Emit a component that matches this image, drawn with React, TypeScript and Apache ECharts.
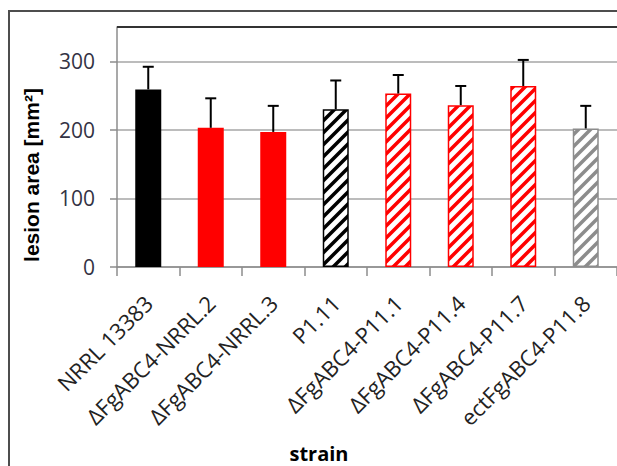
import React, { useEffect, useRef } from "react";
import * as echarts from "echarts";

const categories = [
  "NRRL 13383",
  "ΔFgABC4-NRRL.2",
  "ΔFgABC4-NRRL.3",
  "P1.11",
  "ΔFgABC4-P11.1",
  "ΔFgABC4-P11.4",
  "ΔFgABC4-P11.7",
  "ectFgABC4-P11.8",
];
const means = [259, 203, 197, 230, 253, 236, 264, 202];
const errors = [33, 43, 38, 42, 27, 28, 38, 33];
const barColors = ["#000000", "#ff0000", "#ff0000", "#000000", "#ff0000", "#ff0000", "#ff0000", "#8c8c8c"];
const hatched = [false, false, false, true, true, true, true, true];
const yMin = 0;
const yMax = 350;
const yInterval = 100;

function makeHatch(color: string) {
  const s = 12;
  const c = document.createElement("canvas");
  c.width = s;
  c.height = s;
  const ctx = c.getContext("2d")!;
  ctx.fillStyle = "#ffffff";
  ctx.fillRect(0, 0, s, s);
  ctx.strokeStyle = color;
  ctx.lineWidth = 3.5;
  ctx.lineCap = "square";
  for (const k of [0, s, 2 * s]) {
    ctx.beginPath();
    ctx.moveTo(-3, k + 3);
    ctx.lineTo(k + 3, -3);
    ctx.stroke();
  }
  return c;
}

export default function App() {
  const ref = useRef<HTMLDivElement>(null);
  useEffect(() => {
    const chart = echarts.init(ref.current!, null, { renderer: "svg" });
    const barData = means.map((m, i) => ({
      value: m,
      itemStyle: {
        color: hatched[i] ? { image: makeHatch(barColors[i]), repeat: "repeat" } : barColors[i],
        borderColor: barColors[i],
        borderWidth: 1.5,
      },
    }));
    const option: any = {
      animation: false,
      backgroundColor: "#ffffff",
      grid: { left: 117, top: 27, width: 507, height: 240 },
      xAxis: {
        type: "category",
        data: categories,
        boundaryGap: true,
        axisLine: { lineStyle: { color: "#8c8c8c", width: 1.5 } },
        axisTick: { show: true, length: 9, lineStyle: { color: "#8c8c8c", width: 1.5 } },
        axisLabel: {
          interval: 0,
          rotate: 45,
          margin: 32,
          fontFamily: "Open Sans",
          fontSize: 22,
          color: "#222222",
        },
      },
      yAxis: {
        type: "value",
        min: yMin,
        max: yMax,
        interval: yInterval,
        axisLine: { show: true, lineStyle: { color: "#8c8c8c", width: 1.5 } },
        axisTick: { show: true, length: 7, lineStyle: { color: "#8c8c8c", width: 1.5 } },
        splitLine: { show: true, lineStyle: { color: "#a6a6a6", width: 1.5 } },
        axisLabel: {
          margin: 22,
          fontFamily: "Open Sans",
          fontSize: 21,
          color: "#333344",
          showMaxLabel: false,
        },
      },
      series: [
        {
          type: "bar",
          data: barData,
          barWidth: 26,
          z: 2,
        },
        {
          type: "custom",
          data: means.map((m, i) => [i, m, m + errors[i]]),
          encode: { x: 0, y: [1, 2] },
          z: 3,
          renderItem: (params: any, api: any) => {
            const x = api.value(0);
            const p0 = api.coord([x, api.value(1)]);
            const p1 = api.coord([x, api.value(2)]);
            const hw = 5.5;
            const st = { stroke: "#000000", lineWidth: 2 };
            return {
              type: "group",
              children: [
                { type: "line", shape: { x1: p0[0], y1: p0[1], x2: p1[0], y2: p1[1] }, style: st },
                { type: "line", shape: { x1: p1[0] - hw, y1: p1[1], x2: p1[0] + hw, y2: p1[1] }, style: st },
              ],
            };
          },
        },
      ],
      graphic: [
        {
          type: "rect",
          shape: { x: 9, y: 11, width: 700, height: 600 },
          style: { fill: "none", stroke: "#4d4d4d", lineWidth: 2 },
          z: 10,
        },
        {
          type: "line",
          shape: { x1: 117, y1: 27, x2: 640, y2: 27 },
          style: { stroke: "#333333", lineWidth: 2 },
          z: 10,
        },
        {
          type: "text",
          x: 31,
          y: 175,
          rotation: Math.PI / 2,
          style: {
            text: "lesion area [mm²]",
            fontFamily: "Liberation Sans",
            fontWeight: "bold",
            fontSize: 21,
            fill: "#000000",
            textAlign: "center",
            textVerticalAlign: "middle",
          },
          z: 10,
        },
        {
          type: "text",
          x: 319,
          y: 453,
          style: {
            text: "strain",
            fontFamily: "Open Sans",
            fontWeight: "bold",
            fontSize: 20,
            fill: "#000000",
            textAlign: "center",
            textVerticalAlign: "middle",
          },
          z: 10,
        },
      ],
    };
    chart.setOption(option);
    return () => chart.dispose();
  }, []);
  return (
    <div
      ref={ref}
      style={{ position: "fixed", left: 0, top: 0, width: 617, height: 466 }}
    />
  );
}
